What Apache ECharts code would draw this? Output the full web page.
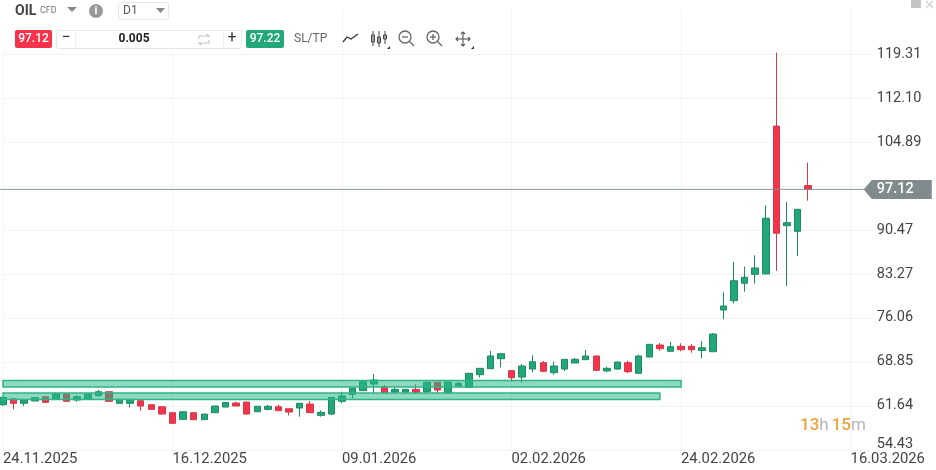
<!DOCTYPE html>
<html>
<head>
<meta charset="utf-8">
<style>html,body{margin:0;padding:0;background:#fff}#plot{width:936px;height:470px}</style>
<script src="https://cdn.jsdelivr.net/npm/echarts@6/dist/echarts.min.js"></script>
</head>
<body>
<div id="plot"></div>
<script>
// daily candles, weekdays from 24.11.2025, the last slots are the empty future part of the axis
const dates = [
  "24.11.2025","25.11.2025","26.11.2025","27.11.2025","28.11.2025","01.12.2025","02.12.2025","03.12.2025","04.12.2025","05.12.2025",
  "08.12.2025","09.12.2025","10.12.2025","11.12.2025","12.12.2025","15.12.2025","16.12.2025","17.12.2025","18.12.2025","19.12.2025",
  "22.12.2025","23.12.2025","24.12.2025","26.12.2025","29.12.2025","30.12.2025","31.12.2025","02.01.2026","05.01.2026","06.01.2026",
  "07.01.2026","08.01.2026","09.01.2026","12.01.2026","13.01.2026","14.01.2026","15.01.2026","16.01.2026","19.01.2026","20.01.2026",
  "21.01.2026","22.01.2026","23.01.2026","26.01.2026","27.01.2026","28.01.2026","29.01.2026","30.01.2026","02.02.2026","03.02.2026",
  "04.02.2026","05.02.2026","06.02.2026","09.02.2026","10.02.2026","11.02.2026","12.02.2026","13.02.2026","16.02.2026","17.02.2026",
  "18.02.2026","19.02.2026","20.02.2026","23.02.2026","24.02.2026","25.02.2026","26.02.2026","27.02.2026","02.03.2026","03.03.2026",
  "04.03.2026","05.03.2026","06.03.2026","09.03.2026","10.03.2026","11.03.2026","12.03.2026","13.03.2026","14.03.2026","15.03.2026",
  "16.03.2026","17.03.2026","18.03.2026"
];
const opens = [
  61.82,62.80,62.05,62.43,63.13,62.87,63.57,62.59,62.70,63.30,
  63.95,62.05,62.05,62.48,61.82,61.49,60.51,59.42,60.51,59.36,
  60.51,61.44,62.10,62.26,60.67,61.06,61.49,61.16,61.28,61.93,
  60.08,60.29,62.38,63.52,64.12,65.21,64.77,63.90,63.90,64.34,
  63.95,65.49,63.74,64.89,64.67,66.74,67.72,69.36,67.40,66.36,
  67.67,68.71,67.07,67.67,68.66,69.20,69.81,67.35,67.67,68.71,
  66.97,69.64,71.61,70.58,71.40,71.40,70.71,70.51,77.35,78.87,
  81.73,83.20,83.26,107.50,91.17,90.25,97.74
];
const closes = [
  63.03,62.05,62.59,62.97,62.21,63.57,62.38,63.13,63.57,63.95,
  62.38,62.70,62.70,61.61,61.06,60.29,58.77,60.67,59.36,60.29,
  61.61,62.18,61.61,60.29,61.56,61.56,60.84,60.62,62.05,60.51,
  60.57,63.03,63.25,64.51,65.59,65.87,63.79,64.34,64.34,63.85,
  65.49,64.23,65.54,65.33,66.97,67.79,69.81,70.18,66.25,68.17,
  68.87,67.30,68.17,69.26,69.26,69.81,67.46,67.79,68.82,67.23,
  69.81,71.72,71.00,71.33,70.84,70.84,71.17,73.41,78.01,82.15,
  82.71,84.24,92.39,89.93,91.67,93.86,97.12
];
const lows = [
  61.60,61.06,61.60,62.43,62.21,62.87,62.38,62.31,62.70,63.13,
  62.38,62.05,61.39,60.84,61.06,60.29,58.77,59.42,59.36,59.36,
  60.51,61.44,61.61,60.29,60.67,60.90,60.84,60.08,59.85,60.51,
  59.85,60.13,62.05,62.87,64.12,63.69,63.79,63.69,63.69,63.57,
  63.69,63.69,63.74,64.67,64.67,66.31,67.72,67.95,65.59,65.43,
  67.13,67.13,66.74,67.35,68.66,69.20,67.30,67.13,67.51,66.97,
  66.97,69.64,70.67,70.58,70.58,70.35,69.43,70.51,75.83,78.44,
  80.35,81.66,83.26,83.77,81.29,86.21,95.28
];
const highs = [
  63.20,62.85,62.59,62.97,63.13,63.79,63.57,63.41,63.57,64.23,
  63.95,62.70,62.70,62.48,61.82,61.49,60.51,60.67,60.51,60.29,
  61.61,62.18,62.31,62.26,61.56,61.82,61.82,61.16,62.05,62.43,
  60.90,63.03,63.95,64.51,65.87,66.85,65.05,64.56,64.34,65.16,
  65.49,65.49,65.54,65.59,66.97,67.79,70.63,70.18,67.40,68.49,
  69.92,68.99,68.87,69.26,69.48,70.79,69.81,68.05,68.82,69.04,
  70.02,71.72,71.94,72.15,71.89,71.77,72.27,73.58,80.25,85.22,
  84.45,86.32,94.52,119.53,95.06,93.86,101.51
];
const priceTicks = [54.43, 61.64, 68.85, 76.06, 83.27, 90.47, 97.68, 104.89, 112.10, 119.31];
const hiddenPriceTick = 97.68; // covered by the live price tag
const lowestPriceTick = 54.43; // its label sits above the line
const lastPrice = 97.12;
const askPrice = 97.22;
const lotSize = "0.005";
const dateLabelStep = 16;
// support zones: [from date, to date, top price, bottom price]
const zones = [
  ["24.11.2025", "24.02.2026", 65.79, 64.72],
  ["24.11.2025", "20.02.2026", 63.74, 62.67],
];

const GREEN = "#22a878";
const GREEN_EDGE = "#1d8a64";
const RED = "#f5344c";
const RED_EDGE = "#cf3a4c";
const TEXT = "#444";
const FONT = "Roboto";

const chart = echarts.init(document.getElementById("plot"), null, { renderer: "canvas" });

function txt(x, y, text, fontSize, fill, extra) {
  return { type: "text", silent: true, z: 50, x, y, style: Object.assign({ text, fontSize, fontFamily: FONT, fill, verticalAlign: "middle" }, extra) };
}
function box(x, y, width, height, fill, stroke, r) {
  return { type: "rect", silent: true, z: 49, shape: { x, y, width, height, r: r || 0 }, style: { fill, stroke } };
}
function tri(x, y, w, h, fill) {
  return { type: "polygon", silent: true, z: 50, shape: { points: [[x, y], [x + w, y], [x + w / 2, y + h]] }, style: { fill } };
}
function pline(points, stroke, lineWidth) {
  return { type: "polyline", silent: true, z: 50, shape: { points }, style: { fill: null, stroke, lineWidth: lineWidth || 1 } };
}
function ring(cx, cy, r) {
  return { type: "circle", silent: true, z: 50, shape: { cx, cy, r }, style: { fill: null, stroke: "#666", lineWidth: 1.3 } };
}
function corner(x, y) {
  return { type: "polygon", silent: true, z: 50, shape: { points: [[x, y], [x, y - 3], [x - 3, y]] }, style: { fill: "#333" } };
}

// toolbar above the plot
const toolbar = [
  box(0, 0, 330, 52, "#fff", null),
  box(330, 0, 606, 9, "#fff", null),
  txt(15, 11, "OIL", 14, TEXT, { fontWeight: 700 }),
  txt(40, 11, "CFD", 9, "#777"),
  tri(67, 7, 10, 5, "#888"),
  { type: "circle", silent: true, z: 49, shape: { cx: 96, cy: 11, r: 7 }, style: { fill: "#999" } },
  txt(96, 11, "i", 11, "#fff", { fontWeight: 700, align: "center" }),
  box(118.5, 2.5, 50, 17, "#fff", "#e6e6e6", 2),
  txt(123, 11, "D1", 12, "#555"),
  tri(156, 8, 9, 5, "#888"),
  box(15, 30, 37, 18, RED, null, 2),
  txt(33.5, 39, String(lastPrice), 12, "#fff", { align: "center", fontWeight: 500 }),
  box(56.5, 30.5, 185, 18, "#fff", "#e8e8e8", 2),
  pline([[75.5, 31], [75.5, 48]], "#ececec"),
  pline([[223.5, 31], [223.5, 48]], "#ececec"),
  txt(66, 38, "−", 16, "#333", { align: "center" }),
  txt(134, 39, lotSize, 12, "#222", { align: "center", fontWeight: 700 }),
  pline([[199, 39], [199, 36], [209, 36], [206.5, 34]], "#c4c4c4", 1.2),
  pline([[209, 40], [209, 43], [199, 43], [201.5, 45]], "#c4c4c4", 1.2),
  txt(232, 38, "+", 16, "#333", { align: "center" }),
  box(246, 30, 38, 18, GREEN, null, 2),
  txt(265, 39, String(askPrice), 12, "#fff", { align: "center", fontWeight: 500 }),
  txt(294, 39, "SL/TP", 12, "#666"),
  // line type, candle type, zoom out, zoom in, crosshair
  pline([[343, 42], [347, 37], [351, 39], [358, 34]], "#333", 1.3),
  pline([[373, 31], [373, 46]], "#444"),
  pline([[379, 31], [379, 47]], "#444"),
  pline([[385, 31], [385, 44]], "#444"),
  box(371.5, 35, 3, 7, "#fff", "#444"),
  box(377.5, 37, 3, 6, "#fff", "#444"),
  box(383.5, 35, 3, 4, "#fff", "#444"),
  corner(390, 49),
  ring(405, 37, 6),
  pline([[409.5, 41.5], [414, 46]], "#666", 1.3),
  pline([[402, 37], [408, 37]], "#666", 1.3),
  ring(433, 37, 6),
  pline([[437.5, 41.5], [442, 46]], "#666", 1.3),
  pline([[430, 37], [436, 37]], "#666", 1.3),
  pline([[433, 34], [433, 40]], "#666", 1.3),
  pline([[463, 32], [463, 46]], "#555", 1.1),
  pline([[456, 39], [470, 39]], "#555", 1.1),
  pline([[461, 34], [463, 32], [465, 34]], "#555", 1.1),
  pline([[461, 44], [463, 46], [465, 44]], "#555", 1.1),
  pline([[458, 37], [456, 39], [458, 41]], "#555", 1.1),
  pline([[468, 37], [470, 39], [468, 41]], "#555", 1.1),
  corner(474, 49),
  // window controls
  box(911, 0, 10, 8, "#c4c4c4", null),
  pline([[926, 1], [933, 8]], "#d0d0d0", 1.3),
  pline([[933, 1], [926, 8]], "#d0d0d0", 1.3),
];

const candleData = opens.map((o, i) => [o, closes[i], lows[i], highs[i]]);

const option = {
  animation: false,
  textStyle: { fontFamily: FONT },
  // left is negative: the axis keeps room for half of the first candle
  grid: { left: -2.2, right: 64.25, top: 0, bottom: 20.2, containLabel: false },
  xAxis: {
    type: "category",
    data: dates,
    boundaryGap: false,
    axisLine: { show: false },
    axisTick: { show: false },
    axisLabel: {
      interval: (i) => i % dateLabelStep === 0,
      align: "left",
      margin: 2,
      fontSize: 14.8,
      color: TEXT,
      fontFamily: FONT,
    },
    splitLine: {
      show: true,
      interval: (i) => i % dateLabelStep === 0,
      lineStyle: { color: "#f3f3f3", width: 1 },
    },
  },
  yAxis: {
    type: "value",
    position: "right",
    min: 54.43,
    max: 128.17,
    axisLine: { show: false },
    axisTick: { show: false, customValues: priceTicks },
    axisLabel: {
      customValues: priceTicks,
      margin: 5,
      fontSize: 14.5,
      color: TEXT,
      fontFamily: FONT,
      rich: {
        low: { padding: [0, 0, 10, 0], fontSize: 14.5, color: TEXT, fontFamily: FONT },
      },
      formatter(v) {
        if (Math.abs(v - hiddenPriceTick) < 0.01) return "";
        if (v === lowestPriceTick) return `{low|${v.toFixed(2)}}`;
        return v.toFixed(2);
      },
    },
    splitLine: { show: true, lineStyle: { color: "#f3f3f3", width: 1 } },
  },
  graphic: toolbar.concat([
    {
      type: "text",
      silent: true,
      z: 50,
      x: 800,
      y: 426,
      style: {
        text: "{o|13}{g|h} {o|15}{g|m}",
        fontFamily: FONT,
        verticalAlign: "middle",
        rich: {
          o: { fontSize: 17, fontFamily: FONT, fill: "#eda33a", fontWeight: 500 },
          g: { fontSize: 17, fontFamily: FONT, fill: "#b5b5b5" },
        },
      },
    },
  ]),
  series: [
    {
      type: "candlestick",
      data: candleData,
      barWidth: 7,
      clip: false,
      itemStyle: {
        color: GREEN,
        color0: RED,
        borderColor: GREEN_EDGE,
        borderColor0: RED_EDGE,
        borderWidth: 1,
      },
      markArea: {
        silent: true,
        z: 10,
        itemStyle: {
          color: "rgba(38,184,134,0.52)",
          borderColor: "#2fb487",
          borderWidth: 1.5,
        },
        data: zones.map((z) => [
          { xAxis: z[0], yAxis: z[2] },
          { xAxis: z[1], yAxis: z[3] },
        ]),
      },
    },
    {
      // live price line with its tag on the price axis
      type: "custom",
      clip: false,
      z: 20,
      silent: true,
      data: [[dates[0], lastPrice]],
      encode: { x: 0, y: 1 },
      renderItem(params, api) {
        const p = api.coord([0, api.value(1)]);
        const edge = params.coordSys.x + params.coordSys.width;
        const y = p[1];
        return {
          type: "group",
          children: [
            { type: "line", shape: { x1: 0, y1: y, x2: edge - 6, y2: y }, style: { stroke: "#7f8b8d", lineWidth: 1, opacity: 0.9 } },
            {
              type: "polygon",
              shape: { points: [[edge - 8, y], [edge, y - 9.5], [edge + 60, y - 9.5], [edge + 60, y + 9.5], [edge, y + 9.5]] },
              style: { fill: "#7f8b8d" },
            },
            {
              type: "text",
              x: edge + 5,
              y,
              style: { text: lastPrice.toFixed(2), fill: "#fff", fontSize: 14.5, fontFamily: FONT, fontWeight: 500, verticalAlign: "middle" },
            },
          ],
        };
      },
    },
  ],
};

chart.setOption(option, true);
</script>
</body>
</html>
